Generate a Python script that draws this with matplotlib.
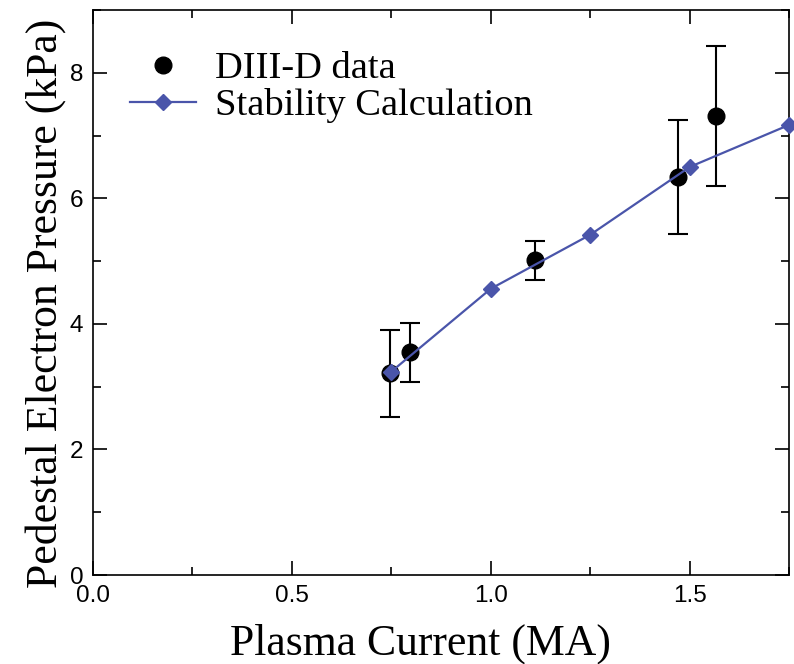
import matplotlib
matplotlib.use("Agg")
import matplotlib.pyplot as plt
from matplotlib.lines import Line2D
from matplotlib.ticker import MultipleLocator

# DIII-D measurements (MA, kPa, +/- kPa)
diiid_current = [0.746, 0.796, 1.11, 1.47, 1.565]
diiid_pressure = [3.21, 3.55, 5.01, 6.34, 7.31]
diiid_err = [0.69, 0.47, 0.31, 0.91, 1.11]

# stability calculation
calc_current = [0.75, 1.0, 1.25, 1.5, 1.75]
calc_pressure = [3.24, 4.56, 5.42, 6.50, 7.17]

serif = ["Liberation Serif", "DejaVu Serif"]
sans = ["Liberation Sans", "DejaVu Sans"]
blue = "#4a55aa"

fig = plt.figure(figsize=(7.94, 6.64), dpi=100)
ax = fig.add_axes([0.117, 0.134, 0.877, 0.851])

ax.errorbar(diiid_current, diiid_pressure, yerr=diiid_err, fmt="o",
            color="black", ms=12, elinewidth=1.5, capsize=7, capthick=1.5,
            zorder=2)
ax.plot(calc_current, calc_pressure, color=blue, lw=1.6, marker="D",
        ms=8, zorder=3, clip_on=False)

ax.set_xlim(0, 1.75)
ax.set_ylim(0, 9)
ax.xaxis.set_minor_locator(MultipleLocator(0.25))
ax.yaxis.set_major_locator(MultipleLocator(2))
ax.yaxis.set_minor_locator(MultipleLocator(1))
ax.set_xticks([0, 0.5, 1.0, 1.5])
ax.set_xticklabels(["0.0", "0.5", "1.0", "1.5"])
ax.tick_params(which="both", direction="in", top=True, right=True, width=1.2)
ax.tick_params(which="major", length=10, labelsize=17.5)
ax.tick_params(axis="x", which="major", pad=7)
ax.tick_params(axis="y", which="major", pad=7)
ax.tick_params(which="minor", length=6)
for lab in ax.get_xticklabels() + ax.get_yticklabels():
    lab.set_family(sans)
for s in ax.spines.values():
    s.set_linewidth(1.2)

ax.set_xlabel("Plasma Current (MA)", family=serif, fontsize=31.5)
ax.set_ylabel("Pedestal Electron Pressure (kPa)", family=serif, fontsize=31.5)
ax.xaxis.set_label_coords(0.47, -0.085)
ax.yaxis.set_label_coords(-0.039, 0.48)

# legend: plain circle for the data (no error bars in the key)
handles = [
    Line2D([], [], ls="none", marker="o", color="black", ms=12),
    Line2D([], [], color=blue, lw=1.6, marker="D", ms=8),
]
ax.legend(handles, ["DIII-D data", "Stability Calculation"], loc="upper left",
          bbox_to_anchor=(0.004, 0.988), frameon=False,
          prop={"family": serif, "size": 27.7}, handlelength=1.7,
          handletextpad=0.5, labelspacing=0.05, numpoints=1)

fig.savefig("out.png", dpi=100)
